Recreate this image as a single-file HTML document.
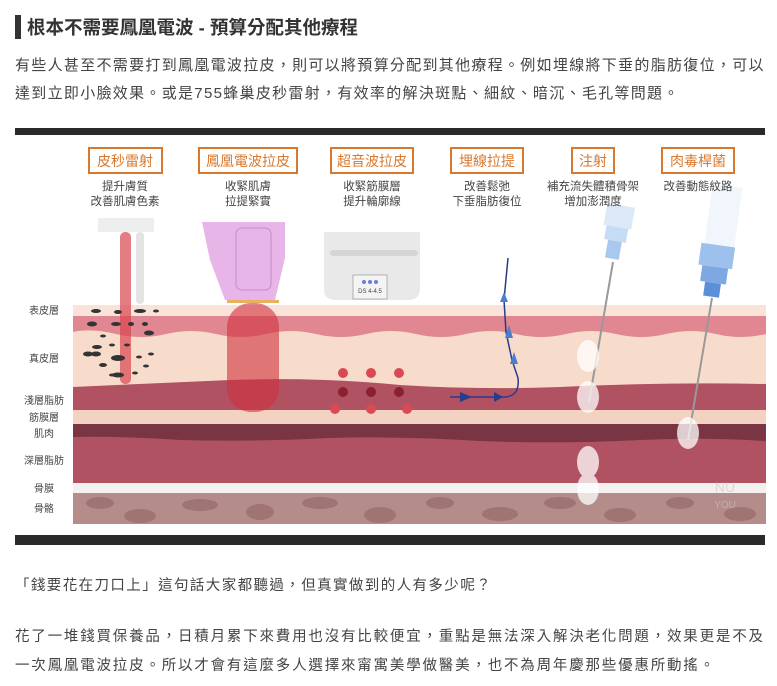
<!DOCTYPE html>
<html><head><meta charset="utf-8">
<style>
body{margin:0;width:777px;height:686px;background:#fff;position:relative;overflow:hidden;font-family:"Liberation Sans","Noto Sans CJK TC",sans-serif;color:#333}
.t{position:absolute;white-space:nowrap}
</style></head><body>
<div class="t" style="left:15px;top:15px;width:6px;height:24px;background:#333"></div>
<div class="t" style="left:27px;top:14px;font-size:18.5px;font-weight:bold;color:#333">根本不需要鳳凰電波 - 預算分配其他療程</div>
<div class="t" style="left:15px;top:54px;font-size:15px;letter-spacing:1.3px;color:#444">有些人甚至不需要打到鳳凰電波拉皮，則可以將預算分配到其他療程。例如埋線將下垂的脂肪復位，可以</div>
<div class="t" style="left:15px;top:82px;font-size:15px;letter-spacing:1.3px;color:#444">達到立即小臉效果。或是755蜂巢皮秒雷射，有效率的解決斑點、細紋、暗沉、毛孔等問題。</div>

<svg class="t" style="left:0;top:0" width="777" height="686" xmlns="http://www.w3.org/2000/svg" font-family="Liberation Sans, Noto Sans CJK TC, sans-serif">
<rect x="15" y="128" width="750" height="7" fill="#2a2a2a"/>
<rect x="15" y="535" width="750" height="10" fill="#2a2a2a"/>
<g fill="none" stroke="#d9782d" stroke-width="2">
<rect x="89" y="148" width="73" height="25"/><rect x="199" y="148" width="98" height="25"/>
<rect x="331" y="148" width="82" height="25"/><rect x="451" y="148" width="72" height="25"/>
<rect x="572" y="148" width="42" height="25"/><rect x="662" y="148" width="72" height="25"/>
</g>
<g fill="#d9782d" font-size="14" text-anchor="middle">
<text x="125" y="166">皮秒雷射</text><text x="248" y="166">鳳凰電波拉皮</text><text x="372" y="166">超音波拉皮</text>
<text x="487" y="166">埋線拉提</text><text x="593" y="166">注射</text><text x="698" y="166">肉毒桿菌</text>
</g>
<!-- injections syringes (behind text) -->
<g transform="rotate(10 616 235)"><rect x="602" y="205" width="28" height="22" fill="#dbe8f7"/><rect x="605" y="227" width="22" height="14" fill="#c6dcf4"/><rect x="609" y="241" width="14" height="18" fill="#a9c8ef"/></g>
<g transform="rotate(8 718 240)"><rect x="705" y="185" width="30" height="60" fill="#f1f6fc"/><rect x="702" y="245" width="34" height="22" fill="#9dc0ec"/><rect x="706" y="267" width="26" height="16" fill="#7ea8e2"/><rect x="711" y="283" width="16" height="14" fill="#5b8fd8"/></g>
<g fill="#444" font-size="11.5" text-anchor="middle">
<text x="125" y="190">提升膚質</text><text x="125" y="205">改善肌膚色素</text>
<text x="248" y="190">收緊肌膚</text><text x="248" y="205">拉提緊實</text>
<text x="372" y="190">收緊筋膜層</text><text x="372" y="205">提升輪廓線</text>
<text x="487" y="190">改善鬆弛</text><text x="487" y="205">下垂脂肪復位</text>
<text x="593" y="190">補充流失體積骨架</text><text x="593" y="205">增加澎潤度</text>
<text x="698" y="190">改善動態紋路</text>
</g>
<!-- layers -->
<rect x="73" y="305" width="693" height="12" fill="#f9e2d8"/>
<rect x="73" y="316" width="693" height="80" fill="#f8dccb"/>
<path d="M73 316H766V334Q741 340 716 334Q691 328 666 334Q641 340 616 334Q591 328 566 334Q541 340 516 334Q491 328 466 334Q441 340 416 334Q391 328 366 334Q341 340 316 334Q291 328 266 334Q241 340 216 334Q191 328 166 334Q141 340 116 334Q91 328 73 332Z" fill="#e08792"/>
<path d="M73 387Q160 383 230 380Q320 377 400 385Q480 390 560 387Q660 382 766 384V411H73Z" fill="#b05262"/>
<rect x="73" y="410" width="693" height="14" fill="#f3d2c2"/>
<rect x="73" y="424" width="693" height="59" fill="#b05262"/>
<path d="M73 424H766V441Q700 437 640 440Q560 444 480 441Q400 436 330 438Q250 442 180 440Q120 436 73 437Z" fill="#7a3545"/>
<rect x="73" y="483" width="693" height="10" fill="#f4f0f0"/>
<rect x="73" y="493" width="693" height="31" fill="#b48c8a"/>
<g fill="#9f7472">
<ellipse cx="100" cy="503" rx="14" ry="6"/><ellipse cx="140" cy="516" rx="16" ry="7"/><ellipse cx="200" cy="505" rx="18" ry="6"/>
<ellipse cx="260" cy="512" rx="14" ry="8"/><ellipse cx="320" cy="503" rx="18" ry="6"/><ellipse cx="380" cy="515" rx="16" ry="8"/>
<ellipse cx="440" cy="503" rx="14" ry="6"/><ellipse cx="500" cy="514" rx="18" ry="7"/><ellipse cx="560" cy="503" rx="16" ry="6"/>
<ellipse cx="620" cy="515" rx="16" ry="7"/><ellipse cx="680" cy="503" rx="14" ry="6"/><ellipse cx="740" cy="514" rx="16" ry="7"/>
</g>
<g fill="#444" font-size="10" text-anchor="middle">
<text x="44" y="314">表皮層</text><text x="44" y="362">真皮層</text><text x="44" y="404">淺層脂肪</text>
<text x="44" y="421">筋膜層</text><text x="44" y="437">肌肉</text><text x="44" y="464">深層脂肪</text>
<text x="44" y="492">骨膜</text><text x="44" y="512">骨骼</text>
</g>
<!-- laser -->
<rect x="98" y="218" width="56" height="14" fill="#eeeeee"/>
<rect x="136" y="232" width="8" height="72" rx="4" fill="#e4e4e4"/>
<rect x="120" y="232" width="11" height="152" rx="5" fill="#d9444f" opacity=".7"/>
<g fill="#333"><ellipse cx="96" cy="311" rx="5" ry="2"/><ellipse cx="118" cy="312" rx="4" ry="2"/><ellipse cx="140" cy="311" rx="6" ry="2"/><ellipse cx="156" cy="311" rx="3" ry="1.5"/>
<ellipse cx="92" cy="324" rx="5" ry="2.5"/><ellipse cx="116" cy="324" rx="5" ry="2"/><ellipse cx="131" cy="324" rx="3" ry="2"/><ellipse cx="145" cy="324" rx="3" ry="2"/>
<ellipse cx="103" cy="336" rx="3" ry="1.5"/><ellipse cx="149" cy="333" rx="5" ry="2.5"/><ellipse cx="97" cy="347" rx="5" ry="2"/><ellipse cx="96" cy="354" rx="5" ry="2.5"/><ellipse cx="127" cy="345" rx="3" ry="1.5"/><ellipse cx="112" cy="345" rx="3" ry="1.5"/>
<ellipse cx="88" cy="354" rx="5" ry="2.5"/><ellipse cx="118" cy="358" rx="7" ry="3"/><ellipse cx="139" cy="357" rx="3" ry="1.5"/><ellipse cx="118" cy="375" rx="6" ry="2.5"/><ellipse cx="103" cy="365" rx="4" ry="2"/><ellipse cx="112" cy="375" rx="3" ry="1.5"/><ellipse cx="135" cy="373" rx="3" ry="1.5"/><ellipse cx="151" cy="354" rx="3" ry="1.5"/><ellipse cx="146" cy="366" rx="3" ry="1.5"/></g>
<!-- thermage -->
<path d="M202 222H285V258L275 300H225L210 260Z" fill="#e8b5e8"/>
<rect x="236" y="228" width="35" height="62" rx="6" fill="none" stroke="#c58bc8" stroke-width="1"/>
<rect x="227" y="300" width="52" height="3" fill="#e8b060"/>
<rect x="227" y="303" width="52" height="109" rx="24" fill="#d0303e" opacity=".6"/>
<!-- ultrasound -->
<path d="M324 232H420V288Q420 300 408 300H336Q324 300 324 290Z" fill="#e9e9e9"/>
<rect x="330" y="250" width="88" height="6" rx="3" fill="#d5d5d5"/>
<rect x="353" y="275" width="34" height="24" fill="#f4f4f4" stroke="#888" stroke-width=".6"/>
<g fill="#6a7fd6"><circle cx="364" cy="282" r="2"/><circle cx="370" cy="282" r="2"/><circle cx="376" cy="282" r="2"/></g>
<text x="370" y="293" font-size="6" fill="#444" text-anchor="middle">DS 4-4.5</text>
<g fill="#d94a55"><circle cx="343" cy="373" r="5"/><circle cx="371" cy="373" r="5"/><circle cx="399" cy="373" r="5"/>
<circle cx="335" cy="409" r="5"/><circle cx="371" cy="409" r="5"/><circle cx="407" cy="409" r="5"/></g>
<g fill="#8a2030"><circle cx="343" cy="392" r="5"/><circle cx="371" cy="392" r="5"/><circle cx="399" cy="392" r="5"/></g>
<!-- thread -->
<path d="M508 258L504 300L506 332L512 360L518 378Q520 396 505 397L450 397" fill="none" stroke="#2b3a8a" stroke-width="1.5"/>
<g fill="#4a7fd0"><path d="M504 292L500 302H508Z"/><path d="M509 325L505 338H513Z"/><path d="M514 352L510 364H518Z"/></g>
<g fill="#2b3a8a"><path d="M460 392L472 397L460 402Z"/><path d="M494 392L503 397L494 402Z"/></g>
<!-- needles -->
<line x1="613" y1="262" x2="589" y2="402" stroke="#999" stroke-width="2"/>
<line x1="712" y1="298" x2="688" y2="440" stroke="#999" stroke-width="2"/>
<g fill="#fff" opacity=".75"><ellipse cx="588" cy="356" rx="11" ry="16"/><ellipse cx="588" cy="397" rx="11" ry="16"/><ellipse cx="588" cy="462" rx="11" ry="16"/><ellipse cx="588" cy="489" rx="11" ry="16"/><ellipse cx="688" cy="433" rx="11" ry="16"/></g>
<text x="725" y="492" font-size="14" fill="#ccb" text-anchor="middle" opacity=".6">NU</text>
<text x="725" y="508" font-size="10" fill="#ccb" text-anchor="middle" opacity=".6">YOU</text>
</svg>

<div class="t" style="left:15px;top:574px;font-size:14.5px;letter-spacing:1.4px;color:#444">「錢要花在刀口上」這句話大家都聽過，但真實做到的人有多少呢？</div>
<div class="t" style="left:15px;top:625px;font-size:14.5px;letter-spacing:1.8px;color:#444">花了一堆錢買保養品，日積月累下來費用也沒有比較便宜，重點是無法深入解決老化問題，效果更是不及</div>
<div class="t" style="left:15px;top:654px;font-size:14.5px;letter-spacing:1.8px;color:#444">一次鳳凰電波拉皮。所以才會有這麼多人選擇來甯寓美學做醫美，也不為周年慶那些優惠所動搖。</div>
</body></html>
